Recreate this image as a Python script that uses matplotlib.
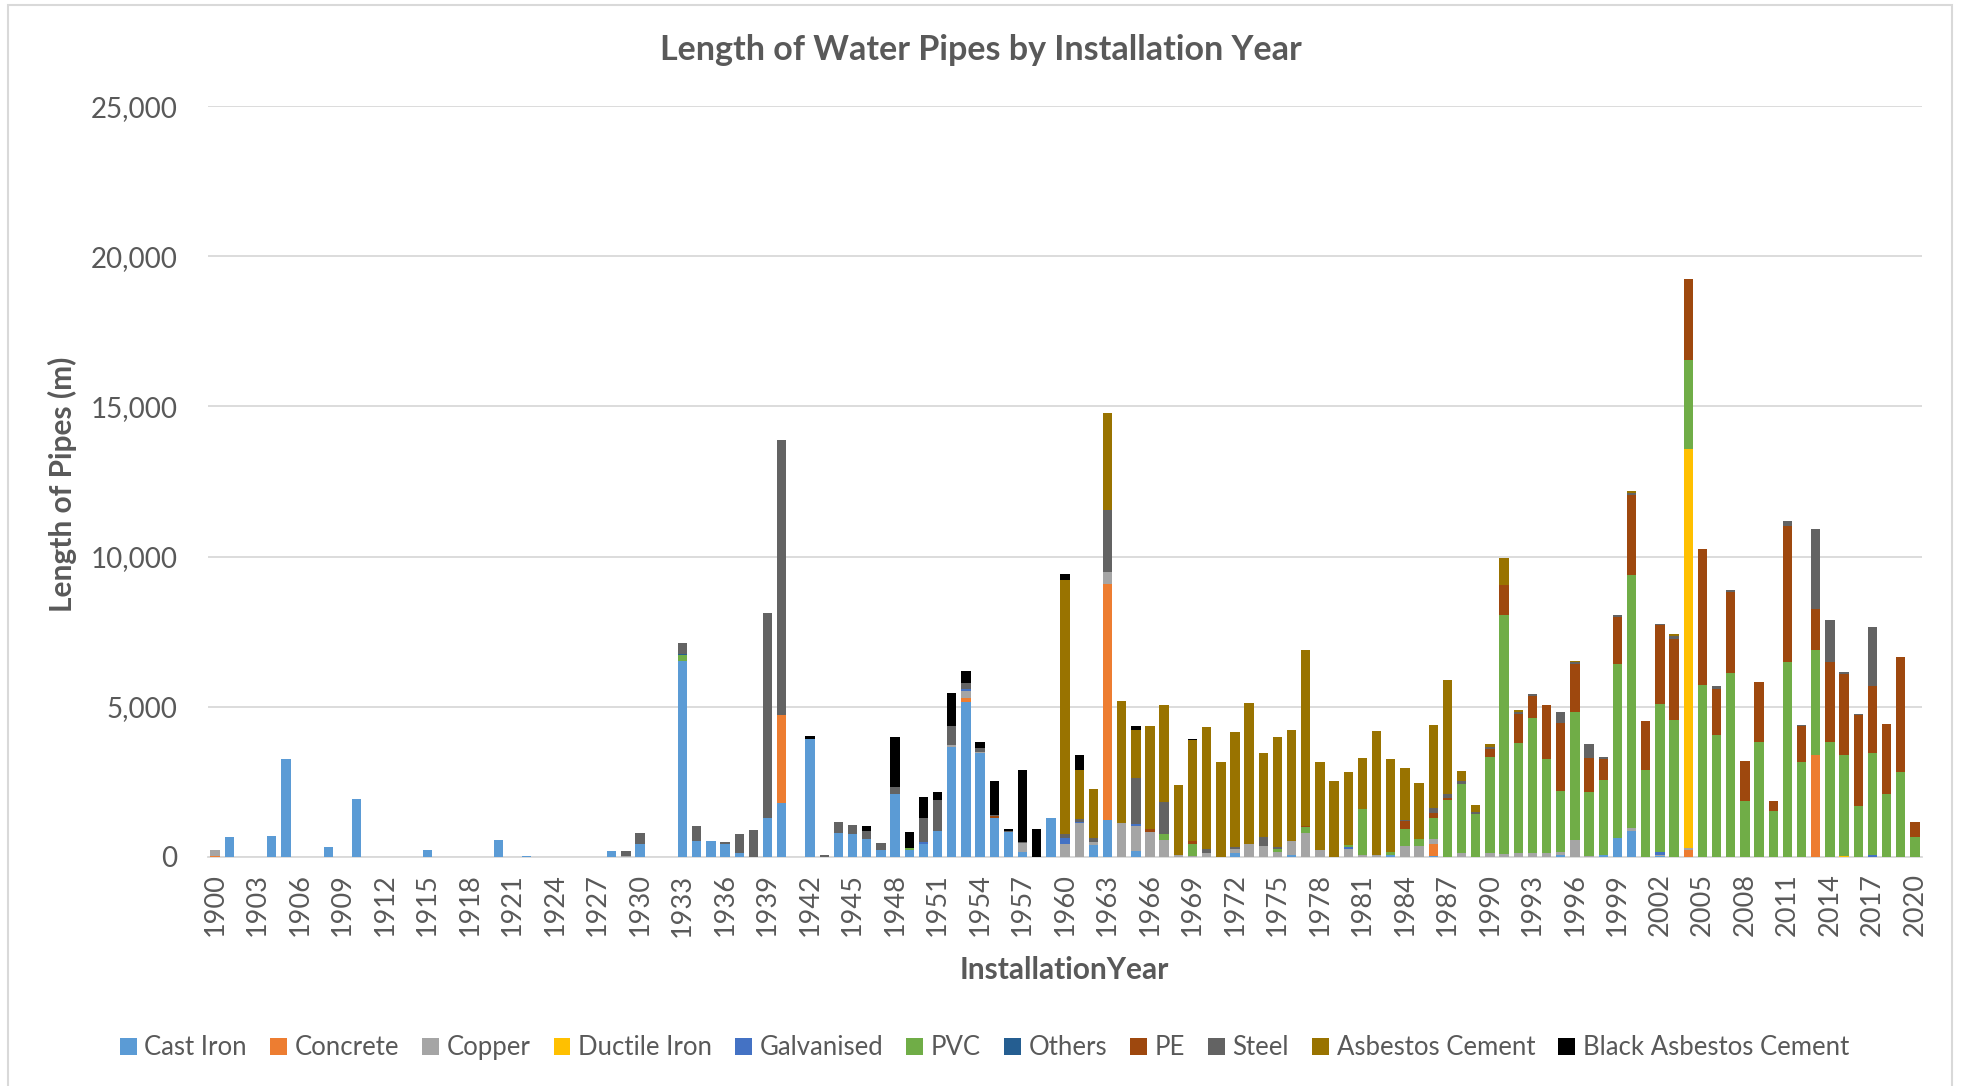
import numpy as np
import matplotlib
matplotlib.use('Agg')
import matplotlib.pyplot as plt
from matplotlib.patches import Rectangle
from matplotlib.ticker import FuncFormatter

plt.rcParams['font.family'] = ['Lato', 'DejaVu Sans']

# Installation years on the x axis
years = list(range(1900, 2021))

# Length of pipe (m) per material, by year (years not listed are zero)
cast_iron = {1901: 670, 1904: 690, 1905: 3260, 1908: 320, 1910: 1910, 1915: 220,
             1920: 545, 1922: 20, 1928: 190, 1930: 420, 1933: 6530, 1934: 520,
             1935: 530, 1936: 420, 1937: 130, 1939: 1300, 1940: 1780, 1942: 3920,
             1944: 780, 1945: 760, 1946: 580, 1947: 220, 1948: 2090, 1949: 240,
             1950: 440, 1951: 860, 1952: 3670, 1953: 5170, 1954: 3440, 1955: 1300,
             1956: 830, 1957: 170, 1959: 1280, 1962: 390, 1963: 1240, 1965: 190,
             1972: 110, 1976: 45, 1983: 55, 1986: 30, 1995: 65, 1998: 65,
             1999: 640, 2000: 850, 2002: 30}
concrete = {1900: 30, 1940: 2940, 1953: 130, 1963: 7830, 1986: 390, 2004: 220, 2013: 3380}
copper = {1900: 190, 1929: 20, 1952: 56, 1953: 220, 1954: 56, 1957: 280, 1960: 420,
          1961: 1110, 1962: 110, 1963: 400, 1964: 1110, 1965: 830, 1966: 830,
          1967: 560, 1968: 56, 1969: 30, 1970: 130, 1972: 160, 1973: 440, 1974: 370,
          1975: 170, 1976: 470, 1977: 780, 1978: 240, 1980: 260, 1981: 56, 1982: 44,
          1984: 360, 1985: 370, 1986: 170, 1988: 110, 1990: 130, 1991: 100, 1992: 120,
          1993: 120, 1994: 120, 1995: 80, 1996: 550, 1997: 40, 2000: 100, 2002: 40,
          2004: 80}
ductile_iron = {2004: 13280, 2015: 33}
galvanised = {1950: 56, 1953: 56, 1960: 220, 1961: 56, 1964: 22, 1965: 56, 1980: 78,
              2002: 90, 2017: 56}
pvc = {1933: 190, 1949: 67, 1967: 190, 1969: 390, 1975: 78, 1977: 220, 1980: 67,
       1981: 1530, 1983: 100, 1984: 560, 1985: 220, 1986: 700, 1987: 1890, 1988: 2330,
       1989: 1430, 1990: 3190, 1991: 7960, 1992: 3680, 1993: 4490, 1994: 3150,
       1995: 2040, 1996: 4280, 1997: 2130, 1998: 2490, 1999: 5780, 2000: 8420,
       2001: 2900, 2002: 4940, 2003: 4570, 2004: 2980, 2005: 5720, 2006: 4060,
       2007: 6110, 2008: 1870, 2009: 3830, 2010: 1520, 2011: 6500, 2012: 3160,
       2013: 3510, 2014: 3820, 2015: 3360, 2016: 1690, 2017: 3390, 2018: 2080,
       2019: 2830, 2020: 670}
others = {1933: 40}
pe = {1955: 56, 1966: 89, 1969: 110, 1977: 33, 1984: 256, 1986: 167, 1987: 56,
      1990: 270, 1991: 1000, 1992: 970, 1993: 760, 1994: 1800, 1995: 2270, 1996: 1580,
      1997: 1120, 1998: 690, 1999: 1570, 2000: 2680, 2001: 1620, 2002: 2610,
      2003: 2680, 2004: 2700, 2005: 4530, 2006: 1520, 2007: 2720, 2008: 1330,
      2009: 2000, 2010: 340, 2011: 4520, 2012: 1200, 2013: 1360, 2014: 2680,
      2015: 2700, 2016: 3020, 2017: 2240, 2018: 2340, 2019: 3830, 2020: 490}
steel = {1929: 170, 1930: 370, 1933: 350, 1934: 500, 1936: 80, 1937: 640, 1938: 890,
         1939: 6810, 1940: 9170, 1943: 60, 1944: 390, 1945: 290, 1946: 280, 1947: 240,
         1948: 230, 1950: 800, 1951: 1030, 1952: 640, 1953: 200, 1954: 120, 1955: 33,
         1956: 40, 1957: 33, 1960: 110, 1961: 78, 1962: 130, 1963: 2090, 1965: 1560,
         1967: 1090, 1970: 130, 1972: 44, 1974: 300, 1975: 67, 1984: 56, 1986: 156,
         1987: 156, 1988: 78, 1989: 67, 1990: 56, 1992: 65, 1993: 65, 1995: 380,
         1996: 90, 1997: 470, 1998: 78, 1999: 78, 2000: 78, 2002: 30, 2003: 100,
         2006: 110, 2007: 56, 2011: 180, 2012: 33, 2013: 2680, 2014: 1390, 2015: 67,
         2016: 44, 2017: 1980}
asbestos_cement = {1960: 8480, 1961: 1640, 1962: 1640, 1963: 3230, 1964: 4070,
                   1965: 1590, 1966: 3440, 1967: 3230, 1968: 2330, 1969: 3360,
                   1970: 4060, 1971: 3170, 1972: 3830, 1973: 4670, 1974: 2780,
                   1975: 3670, 1976: 3710, 1977: 5860, 1978: 2900, 1979: 2520,
                   1980: 2410, 1981: 1720, 1982: 4140, 1983: 3090, 1984: 1710,
                   1985: 1860, 1986: 2760, 1987: 3780, 1988: 330, 1989: 240, 1990: 110,
                   1991: 890, 1992: 40, 1996: 20, 2000: 40, 2003: 60}
black_asbestos_cement = {1942: 110, 1946: 150, 1948: 1670, 1949: 510, 1950: 710,
                         1951: 280, 1952: 1080, 1953: 420, 1954: 200, 1955: 1120,
                         1956: 50, 1957: 2410, 1958: 930, 1960: 200, 1961: 520,
                         1965: 130, 1969: 33}

materials = ['Cast Iron', 'Concrete', 'Copper', 'Ductile Iron', 'Galvanised', 'PVC',
             'Others', 'PE', 'Steel', 'Asbestos Cement', 'Black Asbestos Cement']
series = [cast_iron, concrete, copper, ductile_iron, galvanised, pvc,
          others, pe, steel, asbestos_cement, black_asbestos_cement]
colors = ['#5B9BD5', '#ED7D31', '#A5A5A5', '#FFC000', '#4472C4', '#70AD47',
          '#255E91', '#9E480E', '#636363', '#997300', '#000000']

text_color = '#595959'

fig = plt.figure(figsize=(19.61, 10.86), dpi=100)
ax = fig.add_axes([0.1061, 0.2111, 0.874, 0.691])

# stacked bars
bottom = np.zeros(len(years))
for name, data, col in zip(materials, series, colors):
    vals = np.array([data.get(y, 0) for y in years], dtype=float)
    ax.bar(years, vals, width=0.66, bottom=bottom, color=col, label=name,
           linewidth=0, zorder=3)
    bottom += vals

ax.set_xlim(1899.5, 2020.5)
ax.set_ylim(0, 25000)
ax.set_yticks(range(0, 25001, 5000))
ax.yaxis.set_major_formatter(FuncFormatter(lambda v, p: f'{int(v):,}'))
ax.set_xticks(years[::3])
ax.set_xticklabels([str(y) for y in years[::3]], rotation=90)

ax.grid(axis='y', color='#D9D9D9', linewidth=1.3, zorder=0)
for s in ['top', 'right', 'left']:
    ax.spines[s].set_visible(False)
ax.spines['bottom'].set_color('#D9D9D9')
ax.spines['bottom'].set_linewidth(1.3)
ax.tick_params(axis='both', length=0, labelcolor=text_color)
ax.tick_params(axis='y', labelsize=20, pad=22)
ax.tick_params(axis='x', labelsize=19.5, pad=12)

fig.text(0.5, 0.954, 'Length of Water Pipes by Installation Year', ha='center',
         va='center', fontsize=24.5, fontweight='bold', color=text_color)
fig.text(0.0316, 0.554, 'Length of Pipes (m)', ha='center', va='center',
         rotation=90, fontsize=21.5, fontweight='bold', color=text_color)
fig.text(0.5427, 0.107, 'InstallationYear', ha='center', va='center',
         fontsize=21.5, fontweight='bold', color=text_color)

leg = fig.legend(loc='center', bbox_to_anchor=(0.502, 0.035), ncol=11, frameon=False,
                 fontsize=18.5, handlelength=0.65, handleheight=0.65, handletextpad=0.3,
                 columnspacing=0.9, labelcolor=text_color)

# light border round the chart area
fig.patches.append(Rectangle((0.0041, -0.01), 0.9913, 1.0054, transform=fig.transFigure,
                             fill=False, edgecolor='#D9D9D9', linewidth=1.5))

fig.savefig('out.png', dpi=100, facecolor='white')
